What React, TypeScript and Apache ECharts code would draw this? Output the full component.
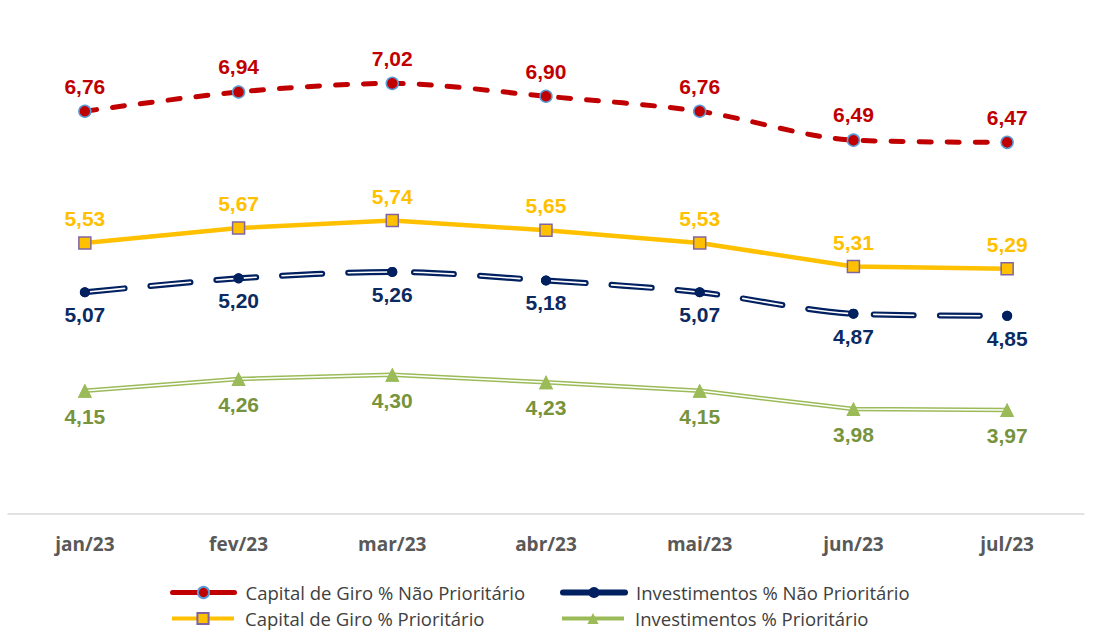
import React, { useEffect, useRef } from "react";
import * as echarts from "echarts";

const categories = ["jan/23", "fev/23", "mar/23", "abr/23", "mai/23", "jun/23", "jul/23"];
const capGiroNaoPrior = [6.76, 6.94, 7.02, 6.9, 6.76, 6.49, 6.47];
const capGiroPrior = [5.53, 5.67, 5.74, 5.65, 5.53, 5.31, 5.29];
const investNaoPrior = [5.07, 5.2, 5.26, 5.18, 5.07, 4.87, 4.85];
const investPrior = [4.15, 4.26, 4.3, 4.23, 4.15, 3.98, 3.97];

const N1 = "Capital de Giro % Não Prioritário";
const N2 = "Capital de Giro % Prioritário";
const N3 = "Investimentos % Não Prioritário";
const N4 = "Investimentos % Prioritário";

const fmt = (p: any) => Number(p.value).toFixed(2).replace(".", ",");

const labelBase = {
  show: true,
  fontFamily: "Liberation Sans, Arial, sans-serif",
  fontWeight: "bold" as const,
  fontSize: 21,
  formatter: fmt,
};

export default function App() {
  const ref = useRef<HTMLDivElement>(null);
  useEffect(() => {
    if (!ref.current) return;
    const chart = echarts.init(ref.current, undefined, { renderer: "svg" });
    const legendText = {
      fontFamily: "Open Sans, sans-serif",
      fontSize: 18.5,
      color: "#404040",
      padding: [0, 0, 0, 6],
    };
    const mkLegend = (name: string, left: number, top: number, lw: number) => ({
      left,
      top,
      orient: "horizontal",
      itemWidth: 62,
      itemHeight: 14,
      padding: 0,
      data: [name],
      textStyle: legendText,
      lineStyle: { width: lw, type: "solid" },
    });
    chart.setOption({
      animation: false,
      backgroundColor: "#ffffff",
      grid: { left: 8, right: 20, top: 32, bottom: 116, containLabel: false },
      xAxis: {
        type: "category",
        data: categories,
        boundaryGap: true,
        axisLine: { lineStyle: { color: "#d9d9d9", width: 1.5 } },
        axisTick: { show: false },
        axisLabel: {
          margin: 20,
          color: "#595959",
          fontFamily: "Open Sans, sans-serif",
          fontWeight: "bold",
          fontSize: 19,
        },
      },
      yAxis: { type: "value", min: 3, max: 7.5, show: false, splitLine: { show: false } },
      legend: [
        mkLegend(N1, 170, 583, 5),
        mkLegend(N2, 170, 609, 4),
        mkLegend(N3, 560, 583, 6),
        mkLegend(N4, 560, 609, 4),
      ],
      series: [
        {
          name: N1,
          type: "line",
          data: capGiroNaoPrior,
          smooth: 0.3,
          symbol: "circle",
          symbolSize: 12,
          lineStyle: { color: "#c00000", width: 5, type: [12, 16], cap: "round" },
          itemStyle: { color: "#c00000", borderColor: "#5b9bd5", borderWidth: 1.5 },
          label: { ...labelBase, position: "top", distance: 8, color: "#c00000" },
          z: 3,
        },
        {
          name: N2,
          type: "line",
          data: capGiroPrior,
          symbol: "rect",
          symbolSize: 12,
          lineStyle: { color: "#ffc000", width: 4.5 },
          itemStyle: { color: "#ffc000", borderColor: "#8064a2", borderWidth: 1.5 },
          label: { ...labelBase, position: "top", distance: 7, color: "#ffc000" },
          z: 3,
        },
        {
          name: N3,
          type: "line",
          data: investNaoPrior,
          smooth: 0.3,
          symbol: "circle",
          symbolSize: 10,
          lineStyle: { color: "#002060", width: 6, type: [40, 26], cap: "round" },
          itemStyle: { color: "#002060" },
          z: 3,
        },
        {
          name: "navyInner",
          type: "line",
          data: investNaoPrior,
          smooth: 0.3,
          symbol: "none",
          silent: true,
          lineStyle: { color: "#ffffff", width: 1.6, type: [40, 26], cap: "round" },
          z: 3,
        },
        {
          name: "navyMarkers",
          type: "line",
          data: investNaoPrior,
          smooth: 0.3,
          symbol: "circle",
          symbolSize: 10,
          lineStyle: { width: 0, opacity: 0 },
          itemStyle: { color: "#002060" },
          label: { ...labelBase, position: "bottom", distance: 7, color: "#0b2a62" },
          z: 3,
        },
        {
          name: N4,
          type: "line",
          data: investPrior,
          symbol: "triangle",
          symbolSize: 14,
          lineStyle: { color: "#9bbb59", width: 4.5 },
          itemStyle: { color: "#9bbb59" },
          z: 3,
        },
        {
          name: "greenInner",
          type: "line",
          data: investPrior,
          symbol: "none",
          silent: true,
          lineStyle: { color: "#ffffff", width: 1.5 },
          z: 3,
        },
        {
          name: "greenMarkers",
          type: "line",
          data: investPrior,
          symbol: "triangle",
          symbolSize: 14,
          lineStyle: { width: 0, opacity: 0 },
          itemStyle: { color: "#9bbb59" },
          label: { ...labelBase, position: "bottom", distance: 8, color: "#77933c" },
          z: 3,
        },
      ],
    });
    return () => chart.dispose();
  }, []);
  return <div ref={ref} style={{ width: 1104, height: 630, position: "absolute", left: 0, top: 0 }} />;
}
